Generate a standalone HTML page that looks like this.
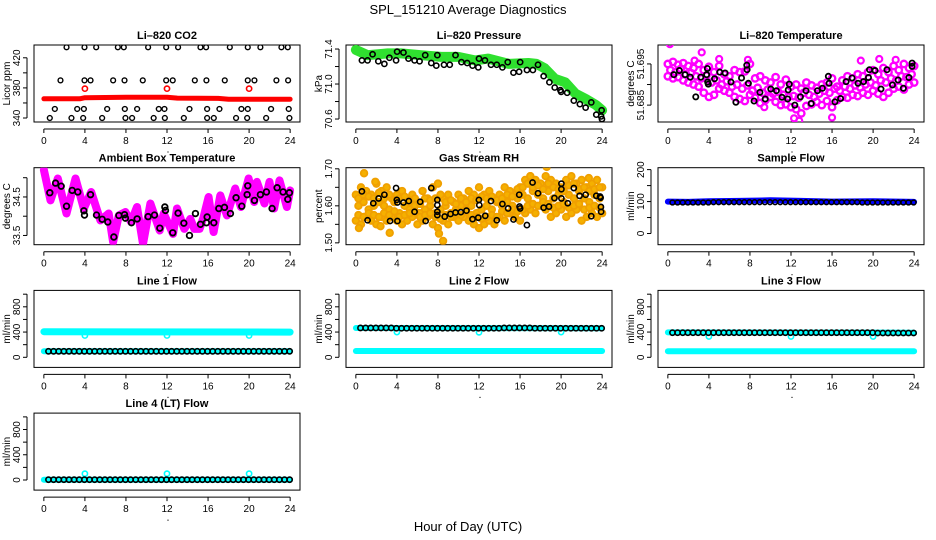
<!DOCTYPE html>
<html><head><meta charset="utf-8"><style>
html,body{margin:0;padding:0;background:#fff;}
svg{display:block;font-family:"Liberation Sans",sans-serif;}
</style></head><body>
<svg id="chart" width="936" height="540" viewBox="0 0 936 540" xmlns="http://www.w3.org/2000/svg">
<text x="468" y="14" text-anchor="middle" font-size="13">SPL_151210  Average Diagnostics</text>
<text x="468" y="531" text-anchor="middle" font-size="13">Hour of Day (UTC)</text>
</svg>
<script>
// ---------- DATA ----------
const xTicks = [0,4,8,12,16,20,24];

// CO2
const co2Hours = [2.21,3.96,5.10,7.21,7.79,10.16,11.92,13.08,15.26,15.81,18.12,19.87,21.10,23.15,23.77,
 1.62,3.96,4.55,6.75,7.86,9.64,11.92,12.56,14.71,15.84,17.63,19.87,20.52,22.66,23.80,
 1.07,3.25,3.90,6.17,7.89,9.09,11.2,11.75,14.19,15.91,17.11,19.25,19.87,22.14,23.86,
 0.58,2.69,3.83,5.68,7.95,8.6,10.7,11.79,13.64,15.91,16.56,18.73,19.81,21.66,23.93];
const co2Vals = [434,434,434,434,434,434,434,434,434,434,434,434,434,434,434,
 390,390,390,390,390,390,390,390,390,390,390,390,390,390,390,
 352,352,352,352,352,352,352,352,352,352,352,352,352,352,352,
 340,340,340,340,340,340,340,340,340,340,340,340,340,340,340];
const co2BandHours = [0,3.5,4,8,12,13,17,18,24];
const co2BandVals = [365.5,365.5,367,367.5,367.5,366.5,366,365,365];
const co2RedHours = [4,12,20];
const co2RedVals = [379,379,379];

// Pressure
const presBandHours = [0,1.14,3.1,4.4,6.37,8.33,9.97,11.6,12.9,14.9,16.8,17.6,18.4,19.4,20.4,21.4,22.4,23.4,24];
const presBandVals = [71.39,71.33,71.35,71.35,71.33,71.31,71.31,71.27,71.29,71.23,71.24,71.23,71.18,71.06,71.02,70.89,70.83,70.76,70.70];
const presHours = [0.59,1.14,1.63,2.19,2.78,3.27,3.92,4.02,4.64,5.13,5.72,6.21,6.76,7.35,7.84,7.94,8.59,9.15,9.71,10.29,10.85,11.37,11.93,12.0,12.58,13.17,13.73,14.28,14.80,15.36,15.91,16.01,16.67,17.25,17.75,18.3,18.86,19.38,19.93,20.0,20.59,21.24,21.83,22.39,22.94,23.43,23.9,23.95,23.98];
const presVals = [71.27,71.27,71.34,71.26,71.23,71.30,71.27,71.37,71.36,71.29,71.27,71.26,71.33,71.24,71.21,71.33,71.22,71.22,71.33,71.25,71.24,71.21,71.19,71.29,71.27,71.22,71.22,71.19,71.25,71.13,71.14,71.25,71.16,71.16,71.22,71.09,71.02,70.96,70.93,70.91,70.90,70.81,70.77,70.73,70.79,70.65,70.63,70.70,70.60];

// Li-820 temperature
const tempA = [51.6950,51.6955,51.6948,51.6952,51.6945,51.6940,51.6950,51.6935,51.6943,51.6930,51.6945,51.6925,51.6920,51.6935,51.6930,51.6932,51.6950,51.6915,51.6920,51.6910,51.6905,51.6918,51.6900,51.6912,51.6895,51.6900,51.6890,51.6905,51.6898,51.6892,51.6900,51.6905,51.6915,51.6895,51.6910,51.6920,51.6915,51.6925,51.6920,51.6930,51.6935,51.6925,51.6940,51.6930,51.6945,51.6935,51.6950,51.6940,51.6945];
const tempB = [51.6920,51.6915,51.6918,51.6910,51.6905,51.6900,51.6895,51.6880,51.6870,51.6875,51.6890,51.6885,51.6880,51.6870,51.6865,51.6860,51.6875,51.6868,51.6855,51.6862,51.6870,51.6858,51.6850,51.6852,51.6845,51.6840,51.6830,51.6848,51.6852,51.6858,51.6850,51.6860,51.6845,51.6862,51.6870,51.6868,51.6875,51.6872,51.6880,51.6875,51.6885,51.6878,51.6870,51.6880,51.6890,51.6895,51.6888,51.6900,51.6905];
const tempC = [51.6935,51.6930,51.6938,51.6925,51.6928,51.6920,51.6915,51.6922,51.6905,51.6910,51.6900,51.6908,51.6895,51.6900,51.6890,51.6898,51.6885,51.6892,51.6880,51.6888,51.6878,51.6882,51.6875,51.6870,51.6872,51.6868,51.6880,51.6875,51.6870,51.6878,51.6885,51.6880,51.6890,51.6885,51.6895,51.6890,51.6898,51.6893,51.6900,51.6905,51.6898,51.6910,51.6905,51.6915,51.6910,51.6920,51.6918,51.6925];
const tempOutHours = [0.2,3.3,7.8,12.3,12.8,16.0,22.2,2.6,5.0,9.4,18.8,20.6];
const tempOutVals = [51.6998,51.6978,51.6960,51.6818,51.6812,51.6820,51.6960,51.6958,51.6962,51.6845,51.6958,51.6962];
const tempHours = [0.58,1.12,1.67,2.18,2.72,3.21,3.78,3.85,3.88,3.94,4.55,5.06,5.58,6.15,6.63,7.18,7.69,7.72,7.85,8.40,8.97,9.49,10.03,10.58,11.12,11.67,11.73,11.83,12.37,12.92,13.46,13.97,14.58,15.06,15.64,15.71,16.28,16.83,17.37,17.95,18.53,19.07,19.55,19.65,20.19,20.77,21.35,21.89,22.44,22.95,23.49,23.8,23.8];
const tempVals = [51.6924,51.6934,51.6924,51.6918,51.6870,51.6918,51.6924,51.6939,51.6906,51.6901,51.6914,51.6930,51.6928,51.6906,51.6857,51.6916,51.6947,51.6936,51.6903,51.6860,51.6881,51.6865,51.6889,51.6885,51.6869,51.6865,51.6887,51.6901,51.6850,51.6870,51.6885,51.6854,51.6885,51.6891,51.6920,51.6903,51.6858,51.6866,51.6907,51.6916,51.6903,51.6907,51.6917,51.6936,51.6934,51.6889,51.6936,51.6899,51.6911,51.6891,51.6917,51.6952,51.6944];

// Ambient box temperature
const ambBandHours = [0,0.65,1.36,2.21,3.08,3.89,4.61,5.51,6.32,6.75,7.30,7.95,8.50,9.08,9.66,10.38,11.29,11.68,12.58,12.97,13.69,14.27,14.66,15.18,15.57,16.05,16.54,17.19,17.84,18.65,19.20,19.95,20.50,20.76,21.50,21.99,22.44,22.96,23.68,24.0];
const ambBandVals = [35.20,34.41,34.98,34.07,34.98,34.20,34.63,33.89,34.07,33.33,34.02,34.11,33.85,34.24,33.28,34.33,33.63,34.07,33.54,34.20,33.67,33.93,33.67,33.67,33.98,34.50,33.59,34.54,34.02,34.72,34.24,34.98,34.37,34.89,34.33,34.89,34.20,34.93,34.24,34.67];
const ambHours = [0.58,1.14,1.69,2.21,2.76,3.31,3.90,3.96,4.55,5.13,5.68,6.23,6.82,7.31,7.86,7.95,8.54,9.09,10.16,10.78,11.30,11.79,11.85,12.56,13.08,13.64,14.19,14.77,15.26,15.84,15.91,16.56,17.05,17.60,18.18,18.73,19.29,19.81,19.87,20.52,21.10,21.69,22.24,22.73,23.31,23.77,23.93];
const ambVals = [34.61,34.86,34.78,34.26,34.67,34.63,34.14,34.03,34.56,34.03,33.92,33.85,33.46,34.02,34.04,33.95,33.83,33.93,33.99,34.03,33.69,34.24,34.15,33.57,34.08,33.82,33.50,34.07,33.79,33.83,33.98,33.83,34.20,34.23,34.07,34.48,34.26,34.56,34.79,34.41,34.56,34.63,34.20,34.74,34.63,34.44,34.61];

// Gas stream RH
const rhA = [1.63,1.65,1.64,1.63,1.66,1.64,1.65,1.62,1.63,1.64,1.62,1.63,1.61,1.64,1.62,1.65,1.66,1.62,1.63,1.61,1.63,1.62,1.64,1.63,1.65,1.63,1.64,1.62,1.63,1.65,1.64,1.63,1.65,1.67,1.68,1.67,1.66,1.68,1.67,1.66,1.65,1.67,1.68,1.66,1.67,1.65,1.66,1.67,1.65];
const rhB = [1.56,1.55,1.57,1.56,1.55,1.57,1.56,1.57,1.56,1.55,1.56,1.57,1.55,1.56,1.57,1.55,1.54,1.56,1.55,1.57,1.56,1.57,1.56,1.55,1.54,1.55,1.56,1.55,1.57,1.56,1.58,1.57,1.56,1.58,1.59,1.58,1.60,1.59,1.57,1.58,1.59,1.57,1.58,1.59,1.56,1.57,1.58,1.57,1.58];
const rhC = [1.60,1.61,1.59,1.60,1.61,1.60,1.59,1.61,1.58,1.60,1.59,1.60,1.58,1.59,1.60,1.58,1.59,1.60,1.58,1.59,1.60,1.59,1.60,1.58,1.59,1.60,1.59,1.61,1.60,1.61,1.60,1.62,1.63,1.62,1.64,1.63,1.62,1.64,1.62,1.63,1.61,1.63,1.62,1.64,1.62,1.61,1.63,1.62];
const rhD = [1.62,1.63,1.625,1.62,1.635,1.62,1.63,1.615,1.62,1.625,1.61,1.62,1.605,1.62,1.615,1.62,1.63,1.61,1.615,1.605,1.62,1.61,1.62,1.615,1.625,1.62,1.625,1.615,1.62,1.63,1.625,1.645,1.65,1.66,1.65,1.655,1.645,1.66,1.65,1.645,1.64,1.655,1.66,1.645,1.65,1.64,1.645,1.65];
const rhE = [1.575,1.57,1.58,1.575,1.57,1.58,1.575,1.585,1.57,1.575,1.58,1.585,1.57,1.575,1.58,1.57,1.565,1.575,1.57,1.58,1.575,1.585,1.575,1.57,1.565,1.57,1.575,1.57,1.585,1.58,1.59,1.585,1.59,1.60,1.605,1.60,1.61,1.605,1.595,1.60,1.605,1.595,1.60,1.605,1.59,1.595,1.60,1.595];
const rhOutHours = [0.8,1.9,3.3,8.1,8.5,18.6,22.7,0.3,2.4,17.0];
const rhOutVals = [1.688,1.665,1.527,1.525,1.505,1.705,1.675,1.54,1.545,1.68];
const rhHours = [0.59,1.14,1.70,2.22,2.78,3.33,3.92,3.99,4.05,4.05,4.64,5.16,5.72,6.27,6.80,7.35,7.94,7.94,7.94,7.94,8.66,9.22,9.71,10.23,10.78,11.37,11.93,11.99,12.03,12.61,13.17,13.73,14.28,14.84,15.36,15.92,15.95,16.01,16.67,17.22,17.75,18.3,18.82,19.35,20.03,20.03,20.03,20.65,21.24,21.80,22.39,22.94,23.43,23.8,23.85,23.88,23.9];
const rhVals = [1.639,1.561,1.607,1.620,1.630,1.559,1.648,1.616,1.609,1.559,1.609,1.613,1.584,1.611,1.559,1.648,1.616,1.602,1.584,1.575,1.571,1.578,1.582,1.583,1.587,1.564,1.568,1.616,1.602,1.573,1.613,1.561,1.605,1.593,1.563,1.630,1.598,1.593,1.548,1.663,1.634,1.595,1.598,1.621,1.620,1.645,1.660,1.607,1.648,1.627,1.630,1.572,1.627,1.625,1.622,1.597,1.584];

// Flows (black points share hours)
const flowHours = [0.45,0.95,1.45,1.95,2.45,2.95,3.45,3.95,4.45,4.95,5.45,5.95,6.45,6.95,7.45,7.95,8.45,8.95,9.45,9.95,10.45,10.95,11.45,11.95,12.45,12.95,13.45,13.95,14.45,14.95,15.45,15.95,16.45,16.95,17.45,17.95,18.45,18.95,19.45,19.95,20.45,20.95,21.45,21.95,22.45,22.95,23.45,23.95];
const sampleVals = [97,97,97,97,97,97,97,97,98,98,98,98,98,98,98,98,98,98,98,98,98,98,98,98,98,98,98,98,98,98,98,98,98,98,98,98,98,97,97,97,97,97,97,97,97,97,97,97];
const sampleBandHours = [0,2,4,7,10,13,16,20,24];
const sampleBandVals = [100,99,101,102,104,102,100,101,99];
const line1Vals = [95,95,95,95,95,95,95,95,95,95,95,95,95,95,95,95,95,95,95,95,95,95,95,95,95,95,95,95,95,95,95,95,95,95,95,95,95,95,95,95,95,95,95,95,95,95,95,95];
const line1CyanHours = [0,24];
const line1CyanHigh = [405,400];
const line1CyanLow = [95,95];
const line2Vals = [465,465,465,465,465,465,465,460,460,460,460,460,460,460,460,460,460,460,460,460,460,460,460,460,460,460,460,460,465,465,465,465,465,465,460,460,460,460,460,460,460,460,460,460,460,460,460,460];
const line2CyanHours = [0,24];
const line2CyanHigh = [465,460];
const line2CyanLow = [100,100];
const line3Vals = [390,390,390,390,390,390,390,390,390,390,390,390,390,390,390,390,390,390,390,390,390,390,390,390,390,390,390,390,390,390,390,390,390,390,390,390,390,390,390,390,385,385,385,385,385,385,385,385];
const line3CyanHours = [0,24];
const line3CyanHigh = [395,390];
const line3CyanLow = [95,95];
const line4Vals = [5,5,5,5,5,5,5,5,5,5,5,5,5,5,5,5,5,5,5,5,5,5,5,5,5,5,5,5,5,5,5,5,5,5,5,5,5,5,5,5,5,5,5,5,5,5,5,5];
const line4CyanHours = [0,24];
const line4CyanLow = [5,5];
const dipHours = [4,12,20];
const line1DipVals = [345,345,345];
const line2DipVals = [400,395,400];
const line3DipVals = [330,330,330];
const line4DipVals = [100,100,100];

// ---------- DRAWING ----------
const NS = 'http://www.w3.org/2000/svg';
const svg = document.getElementById('chart');
function el(tag, attrs, parent) {
  const e = document.createElementNS(NS, tag);
  for (const k in attrs) e.setAttribute(k, attrs[k]);
  (parent || svg).appendChild(e);
  return e;
}
let clipId = 0;
function makePanel(col, row, title, ymin, ymax, yTicks, yLabels, yTitle, key) {
  const L = col * 312 + 34, R = col * 312 + 300;
  const T = 45 + row * 122.7, B = T + 77;
  const xmin = -0.96, xmax = 24.96;
  const x = h => L + (h - xmin) / (xmax - xmin) * (R - L);
  const y = v => B - (v - ymin) / (ymax - ymin) * (B - T);
  const g = el('g', {});
  
  
  const t = el('text', {x: (L + R) / 2, y: T - 6, 'text-anchor': 'middle', 'font-size': 11, 'font-weight': 'bold'}, g);
  t.textContent = title;
  
  
  const box = el('rect', {x: L, y: T, width: R - L, height: B - T, fill: 'none', stroke: '#000', 'stroke-width': 1}, g);
  
  
  const xa = el('g', {}, g);
  
  
  el('line', {x1: x(0), x2: x(24), y1: B + 7, y2: B + 7, stroke: '#000'}, xa);
  xTicks.forEach(v => {
    el('line', {x1: x(v), x2: x(v), y1: B + 7, y2: B + 11, stroke: '#000'}, xa);
    const tl = el('text', {x: x(v), y: B + 22, 'text-anchor': 'middle', 'font-size': 10}, xa);
    tl.textContent = v;
  });
  el('circle', {cx: x(12) + 1, cy: B + 30, r: 0.6, fill: '#000'}, xa);
  const ya = el('g', {}, g);
  
  
  const ax = L - 7;
  el('line', {x1: ax, x2: ax, y1: y(yTicks[0]), y2: y(yTicks[yTicks.length - 1]), stroke: '#000'}, ya);
  yTicks.forEach(v => el('line', {x1: ax, x2: ax - 4, y1: y(v), y2: y(v), stroke: '#000'}, ya));
  yLabels.forEach(v => {
    const yy = y(v);
    const tl = el('text', {x: ax - 7, y: yy, 'text-anchor': 'middle', 'font-size': 10, transform: `rotate(-90 ${ax - 7} ${yy})`}, ya);
    tl.textContent = v;
  });
  const yc = (T + B) / 2;
  const yt = el('text', {x: L - 24, y: yc, 'text-anchor': 'middle', 'font-size': 10, transform: `rotate(-90 ${L - 24} ${yc})`}, g);
  yt.textContent = yTitle;
  
  
  clipId++;
  const cp = el('clipPath', {id: 'c' + clipId}, g);
  el('rect', {x: L, y: T, width: R - L, height: B - T}, cp);
  const marks = el('g', {'clip-path': `url(#c${clipId})`}, g);
  
  
  return {x, y, g: marks};
}
function band(p, hours, vals, color, width, name) {
  const pts = hours.map((h, i) => p.x(h).toFixed(1) + ',' + p.y(vals[i]).toFixed(1)).join(' ');
  const pl = el('polyline', {points: pts, fill: 'none', stroke: color, 'stroke-width': width, 'stroke-linejoin': 'round', 'stroke-linecap': 'round'}, p.g);
  
  
}
function points(p, hours, vals, color, name, r, sw, fill) {
  const grp = el('g', {}, p.g);
  
  
  hours.forEach((h, i) => {
    el('circle', {cx: p.x(h), cy: p.y(vals[i]), r: r || 2.6, fill: fill || 'none', stroke: color, 'stroke-width': sw || 1.6}, grp);
  });
}
function halfHours(n, off) { const a = []; for (let i = 0; i < n; i++) a.push(i * 0.5 + off); return a; }

// Row 1
let p = makePanel(0, 0, 'Li\u2013820 CO2', 334.7, 437, [340,360,380,400,420], [340,380,420], 'Licor ppm', 'co2');
band(p, co2BandHours, co2BandVals, '#ff0000', 5, 'co2-red-band');
points(p, co2RedHours, co2RedVals, '#ff0000', 'co2-red-points');
points(p, co2Hours, co2Vals, '#000', 'co2-black-points', 2.4, 1.4);

p = makePanel(1, 0, 'Li\u2013820 Pressure', 70.566, 71.446, [70.6,70.8,71.0,71.2,71.4], ['70.6','71.0','71.4'], 'kPa', 'pressure');
band(p, presBandHours, presBandVals, '#2fe02f', 10, 'pressure-green-band');
points(p, presHours, presVals, '#000', 'pressure-black-points');

p = makePanel(2, 0, 'Li\u2013820 Temperature', 51.6809, 51.6996, [51.685,51.690,51.695], ['51.685','51.695'], 'degrees C', 'li820-temp');
points(p, halfHours(49, 0), tempA, '#ff00ff', 'temp-magenta-upper', 3.2, 2.4);
points(p, halfHours(49, 0), tempB, '#ff00ff', 'temp-magenta-lower', 3.2, 2.4);
points(p, halfHours(48, 0.25), tempC, '#ff00ff', 'temp-magenta-mid', 3.2, 2.4);
points(p, tempOutHours, tempOutVals, '#ff00ff', 'temp-magenta-outliers', 3.0, 2.2);
points(p, tempHours, tempVals, '#000', 'temp-black-points', 2.6, 1.8);

// Row 2
p = makePanel(0, 1, 'Ambient Box Temperature', 33.26, 35.26, [33.5,34.0,34.5,35.0], ['33.5','34.5'], 'degrees C', 'ambient');
band(p, ambBandHours, ambBandVals, '#ff00ff', 8, 'ambient-magenta-band');
points(p, ambHours, ambVals, '#000', 'ambient-black-points', 2.8, 1.8);

p = makePanel(1, 1, 'Gas Stream RH', 1.495, 1.703, [1.50,1.55,1.60,1.65,1.70], ['1.50','1.60','1.70'], 'percent', 'rh');
[['rh-orange-upper', halfHours(49, 0), rhA], ['rh-orange-lower', halfHours(49, 0), rhB], ['rh-orange-mid', halfHours(48, 0.25), rhC], ['rh-orange-midhigh', halfHours(48, 0.25), rhD], ['rh-orange-midlow', halfHours(48, 0.25), rhE], ['rh-orange-outliers', rhOutHours, rhOutVals]]
  .forEach(s => points(p, s[1], s[2], '#f0a000', s[0], 3.3, 1.8, '#f5b000'));
points(p, rhHours, rhVals, '#000', 'rh-black-points', 2.6, 1.6);

p = makePanel(2, 1, 'Sample Flow', -35, 206, [0,50,100,150,200], [0,100,200], 'ml/min', 'sample-flow');
band(p, sampleBandHours, sampleBandVals, '#0000ff', 6, 'sample-blue-band');
points(p, flowHours, sampleVals, '#000', 'sample-black-points', 2.4, 1.5);

// Row 3 & 4
const fT = [0,200,400,600,800,1000], fL = [0,400,800];
p = makePanel(0, 2, 'Line 1 Flow', -160, 1060, fT, fL, 'ml/min', 'line1');
band(p, line1CyanHours, line1CyanHigh, '#00ffff', 7, 'line1-cyan-high-band');
band(p, line1CyanHours, line1CyanLow, '#00ffff', 6, 'line1-cyan-low-band');
points(p, dipHours, line1DipVals, '#00ffff', 'line1-cyan-dips');
points(p, flowHours, line1Vals, '#000', 'line1-black-points', 2.6, 1.6);

p = makePanel(1, 2, 'Line 2 Flow', -160, 1060, fT, fL, 'ml/min', 'line2');
band(p, line2CyanHours, line2CyanHigh, '#00ffff', 6, 'line2-cyan-high-band');
band(p, line2CyanHours, line2CyanLow, '#00ffff', 6, 'line2-cyan-low-band');
points(p, dipHours, line2DipVals, '#00ffff', 'line2-cyan-dips');
points(p, flowHours, line2Vals, '#000', 'line2-black-points', 2.6, 1.6);

p = makePanel(2, 2, 'Line 3 Flow', -160, 1060, fT, fL, 'ml/min', 'line3');
band(p, line3CyanHours, line3CyanHigh, '#00ffff', 6, 'line3-cyan-high-band');
band(p, line3CyanHours, line3CyanLow, '#00ffff', 6, 'line3-cyan-low-band');
points(p, dipHours, line3DipVals, '#00ffff', 'line3-cyan-dips');
points(p, flowHours, line3Vals, '#000', 'line3-black-points', 2.6, 1.6);

p = makePanel(0, 3, 'Line 4 (LT) Flow', -160, 1060, fT, fL, 'ml/min', 'line4');
band(p, line4CyanHours, line4CyanLow, '#00ffff', 6, 'line4-cyan-band');
points(p, dipHours, line4DipVals, '#00ffff', 'line4-cyan-dips');
points(p, flowHours, line4Vals, '#000', 'line4-black-points', 2.6, 1.6);
</script>
</body></html>
